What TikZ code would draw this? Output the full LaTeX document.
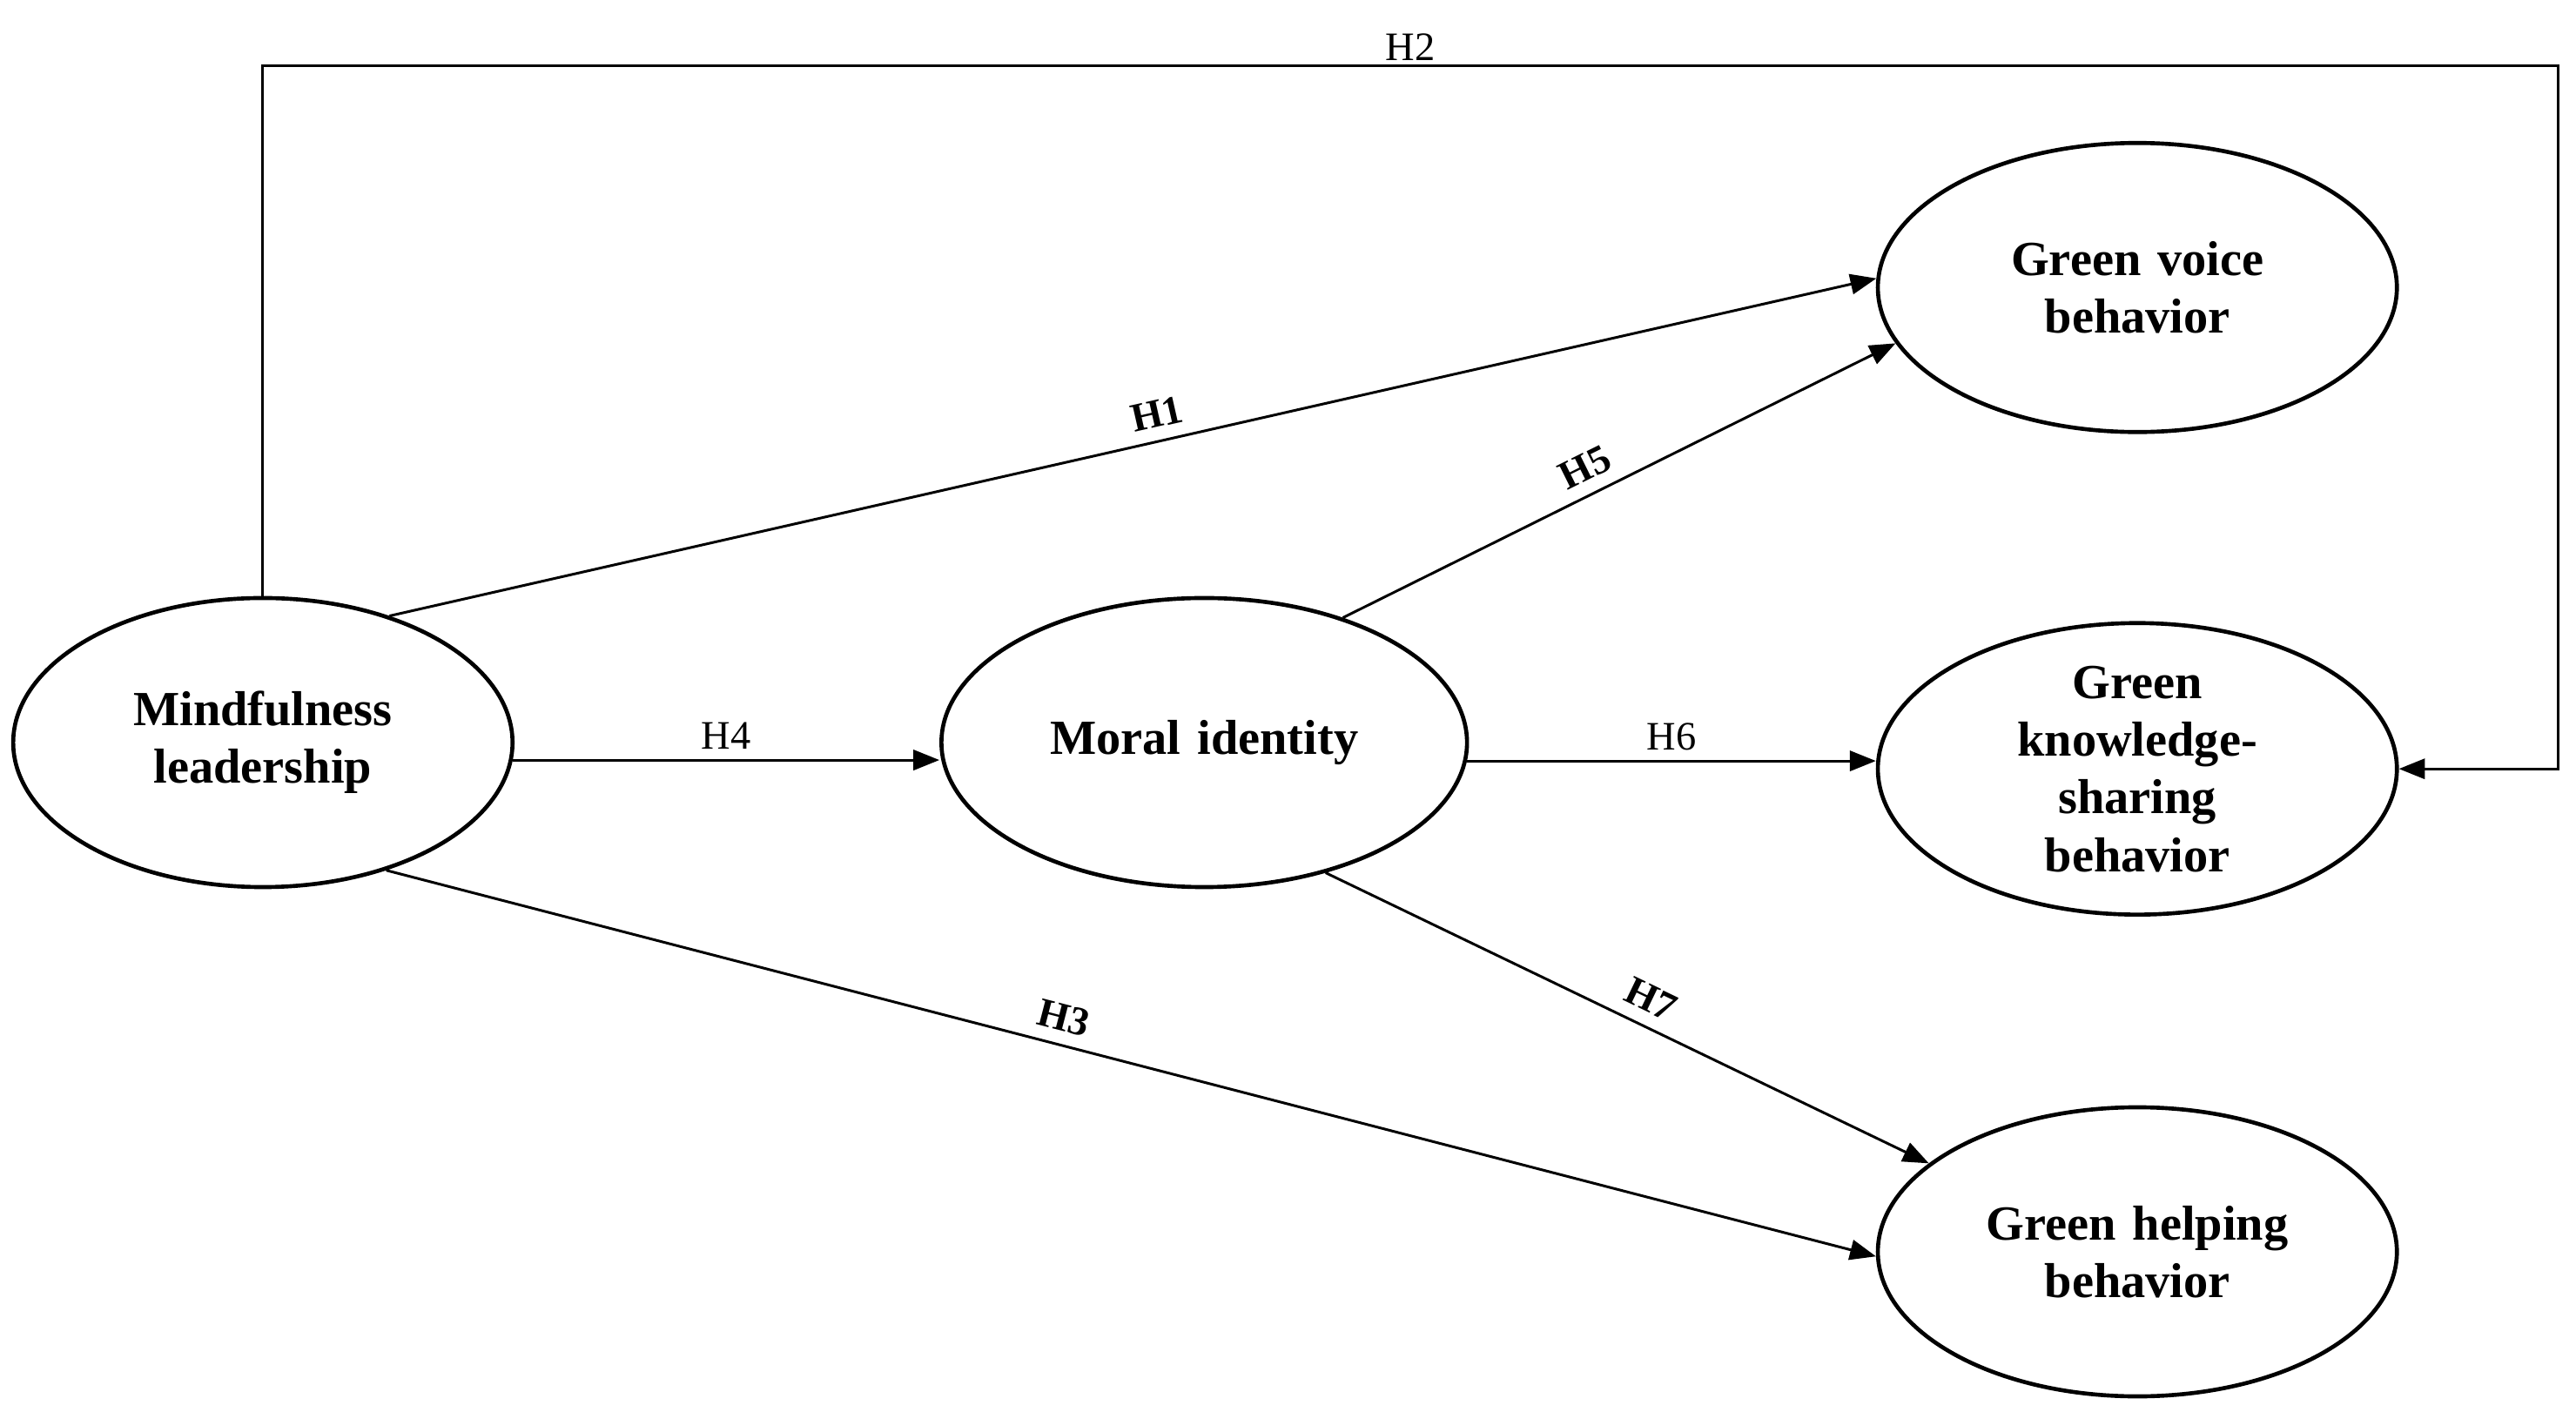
\documentclass[tikz,border=0pt]{standalone}
\usepackage{fontspec}
\setmainfont{Liberation Serif}
\usetikzlibrary{arrows.meta,shapes.geometric}

\begin{document}
\begin{tikzpicture}[x=0.02cm, y=-0.02cm,
            construct/.style = {draw, ellipse, line width=1.4pt, align=center, text width=4cm,
                font=\fontsize{17}{20}\selectfont\bfseries, inner sep=0pt},
            path/.style = {-{Triangle[length=9pt,width=7pt]}, line width=0.9pt},
            hyp/.style = {font=\fontsize{14}{16}\selectfont\bfseries},
            hypn/.style = {font=\fontsize{14}{16}\selectfont}
            ]
            \useasboundingbox (0,0) rectangle (1568,859);
            % constructs
            \node[construct, minimum width=6.08cm, minimum height=3.52cm] (mind) at (160,452) {Mindfulness\\leadership};
            \node[construct, minimum width=6.4cm, minimum height=3.52cm] (moral) at (733,452) {Moral identity};
            \node[construct, minimum width=6.32cm, minimum height=3.52cm] (voice) at (1301,175) {Green voice behavior};
            \node[construct, minimum width=6.32cm, minimum height=3.52cm] (know) at (1301,468) {Green knowledge-\\sharing behavior};
            \node[construct, minimum width=6.32cm, minimum height=3.52cm] (help) at (1301,762) {Green helping\\behavior};
            \coordinate (corner) at (1557,40);
            % hypotheses
            \draw[path] (mind.45) -- node[hyp, pos=0.52, sloped, above=1pt] {H1} (voice.178);
            \draw[path] (mind.north) |- node[hypn, pos=0.75, above=-2pt] {H2} (corner) |- (know.east);
            \draw[path] (mind.-46) -- node[hyp, pos=0.45, sloped, above=1pt] {H3} (help.181);
            \draw[path] (mind.-4) -- node[hypn, above] {H4} (mind.-4 -| moral.west);
            \draw[path] (moral.42) -- node[hyp, pos=0.46, sloped, above=1pt] {H5} (voice.193);
            \draw[path] (moral.-4) -- node[hypn, above] {H6} (moral.-4 -| know.west);
            \draw[path] (moral.-47) -- node[hyp, pos=0.52, sloped, above=1pt] {H7} (help.157);
        \end{tikzpicture}
\end{document}
